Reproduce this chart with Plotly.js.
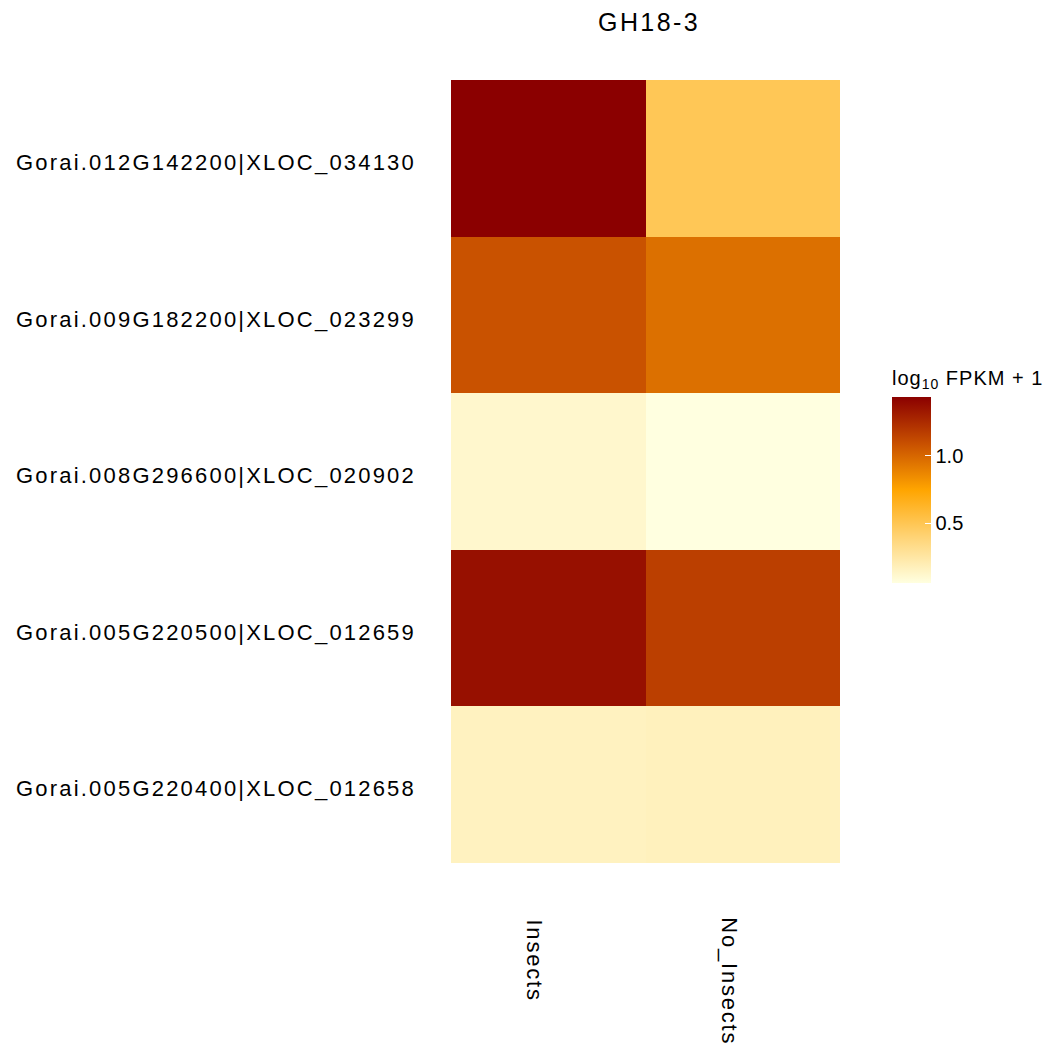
<!DOCTYPE html>
<html>
<head>
<meta charset="utf-8">
<script src="https://cdn.plot.ly/plotly-3.0.1.min.js"></script>
<style>
html,body{margin:0;padding:0;background:#fff;}
#chart{width:1046px;height:1051px;}
#chart .ytick text{letter-spacing:2.2px;}
#chart .annotation-text{letter-spacing:1.8px;}
#chart .gtitle{letter-spacing:2.4px;}
#chart .cbtitle text{letter-spacing:1px;}
</style>
</head>
<body>
<div id="chart"></div>
<script>
// Data
var genes = [
  "Gorai.012G142200|XLOC_034130",
  "Gorai.009G182200|XLOC_023299",
  "Gorai.008G296600|XLOC_020902",
  "Gorai.005G220500|XLOC_012659",
  "Gorai.005G220400|XLOC_012658"
];
var conditions = ["Insects", "No_Insects"];
var insectsValues =   [1.43, 1.08, 0.12, 1.36, 0.16];
var noInsectsValues = [0.49, 0.96, 0.06, 1.16, 0.17];
var colorbarTicks = [0.5, 1.0];
var colorbarTickText = ["0.5", "1.0"];

var z = genes.map(function(g, i){ return [insectsValues[i], noInsectsValues[i]]; });

var font = "Liberation Sans, Arial, sans-serif";

var trace = {
  type: "heatmap",
  x: conditions,
  y: genes,
  z: z,
  zmin: 0.06,
  zmax: 1.43,
  xgap: 0, ygap: 0,
  colorscale: [
    [0, "#FFFFE0"],
    [0.25, "#FFD374"],
    [0.5, "#FFA500"],
    [0.75, "#C85000"],
    [1, "#8B0000"]
  ],
  hoverinfo: "x+y+z",
  colorbar: {
    title: {text: "log<sub>10</sub> FPKM + 1", side: "top", font: {family: font, size: 20, color: "#000"}},
    thickness: 39,
    thicknessmode: "pixels",
    len: 216,
    lenmode: "pixels",
    x: 1.1337,
    xanchor: "left",
    xpad: 0,
    y: 0.3576,
    yanchor: "bottom",
    ypad: 0,
    outlinewidth: 0,
    tickmode: "array",
    tickvals: colorbarTicks,
    ticktext: colorbarTickText,
    tickprefix: "\u00a0",
    ticks: "inside",
    ticklen: 6,
    tickcolor: "#ffffff",
    tickwidth: 1.2,
    tickfont: {family: font, size: 20, color: "#000"}
  }
};

var annotations = conditions.map(function(c){
  return {
    x: c, xref: "x",
    y: 0, yref: "paper",
    yanchor: "top", xanchor: "center",
    yshift: -61, xshift: -13,
    textangle: 90,
    showarrow: false,
    text: c,
    font: {family: font, size: 22, color: "#000"}
  };
});

var layout = {
  width: 1046,
  height: 1051,
  margin: {l: 451, r: 206, t: 80, b: 188},
  paper_bgcolor: "#fff",
  plot_bgcolor: "#fff",
  title: {
    text: "GH18-3",
    font: {family: font, size: 25, color: "#000"},
    x: 0.6205, xanchor: "center", y: 0.979, yanchor: "middle"
  },
  xaxis: {
    type: "category",
    showticklabels: false,
    showgrid: false, zeroline: false, showline: false,
    ticks: ""
  },
  yaxis: {
    type: "category",
    autorange: "reversed",
    showgrid: false, zeroline: false, showline: false,
    ticks: "",
    ticklabelstandoff: 34,
    ticklabelshift: -4,
    tickfont: {family: font, size: 22, color: "#000"}
  },
  annotations: annotations
};

Plotly.newPlot("chart", [trace], layout, {displayModeBar: false, staticPlot: true});
</script>
</body>
</html>
